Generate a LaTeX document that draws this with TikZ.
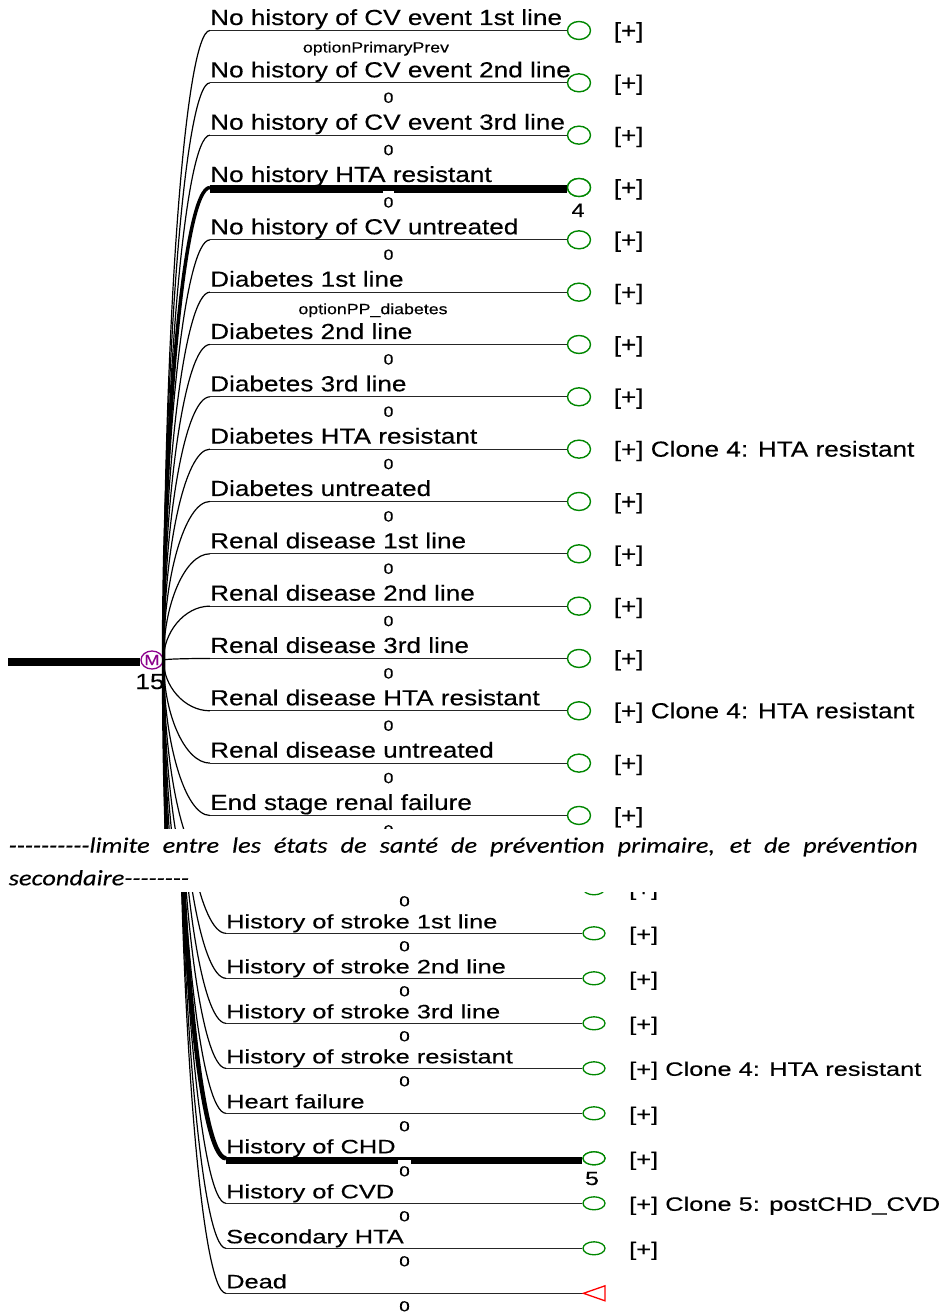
\documentclass[tikz,border=0pt]{standalone}
\usepackage{fontspec}
\usetikzlibrary{shapes.geometric}
\newfontfamily\upf[FakeStretch=1.2,FakeBold=0.3]{Liberation Sans}
\newfontfamily\lowf[FakeStretch=1.31,FakeBold=0.3]{Liberation Sans}
\newfontfamily\bandf[FakeStretch=1.2,FakeBold=0.2]{Carlito}
\definecolor{termgreen}{RGB}{0,135,0}
\definecolor{mpurple}{RGB}{140,0,140}
\definecolor{deadred}{RGB}{255,0,0}
\begin{document}
\begin{tikzpicture}[x=1pt,y=-1pt,
  ulab/.style={anchor=base west,inner sep=0pt,font=\upf\fontsize{21.8}{24}\selectfont},
  usmall/.style={anchor=base,inner sep=1pt,font=\upf\fontsize{14.8}{16}\selectfont},
  llab/.style={anchor=base west,inner sep=0pt,font=\lowf\fontsize{19.4}{22}\selectfont},
  lsmall/.style={anchor=base,inner sep=1pt,font=\lowf\fontsize{14.5}{16}\selectfont},
  notch/.style={fill=white,text height=15pt},
  uterm/.style={ellipse,draw=termgreen,line width=1.4pt,minimum width=23pt,minimum height=18pt,inner sep=0pt},
  lterm/.style={ellipse,draw=termgreen,line width=1.3pt,minimum width=22pt,minimum height=13pt,inner sep=0pt},
  mnode/.style={ellipse,draw=mpurple,text=mpurple,line width=1.3pt,minimum width=22pt,minimum height=18pt,inner sep=0pt,font=\upf\fontsize{15}{15}\selectfont},
  branch/.style={line width=1.2pt,black!85},
  stem/.style={line width=1.2pt,black},
  thickstem/.style={line width=3.5pt,black},
  thickline/.style={line width=8pt,black},
  bandtext/.style={anchor=base west,inner sep=0pt,font=\bandf\itshape\fontsize{22}{26}\selectfont}
]
\fill[white] (0,0) rectangle (947,1313);
\useasboundingbox (0,0) rectangle (947,1313);

% ---------------- upper part ----------------
\begin{scope}
\clip (0,0) rectangle (947,828);
\node[mnode] (M) at (152,660) {M};
\coordinate (root) at (8,661.5);
\draw[thickline] (root) -- (root -| M.west);
\node[ulab,anchor=base] (n15) at (150,689) {15};

\foreach \i/\t/\r in {
 1/No history of CV event 1st line/{[+]},
 2/No history of CV event 2nd line/{[+]},
 3/No history of CV event 3rd line/{[+]},
 4/No history HTA resistant/{[+]},
 5/No history of CV untreated/{[+]},
 6/Diabetes 1st line/{[+]},
 7/Diabetes 2nd line/{[+]},
 8/Diabetes 3rd line/{[+]},
 9/Diabetes HTA resistant/{[+] Clone 4: HTA resistant},
 10/Diabetes untreated/{[+]},
 11/Renal disease 1st line/{[+]},
 12/Renal disease 2nd line/{[+]},
 13/Renal disease 3rd line/{[+]},
 14/Renal disease HTA resistant/{[+] Clone 4: HTA resistant},
 15/Renal disease untreated/{[+]},
 16/End stage renal failure/{[+]}}{
  \pgfmathsetmacro\yy{30.5+52.33*(\i-1)}
  \coordinate (s\i) at (210,\yy);
  \node[uterm] (c\i) at (579,\yy) {};
  \draw[stem] (M.east) .. controls (163,{660+0.5*(\yy-660)}) and (184.15,\yy) .. (s\i);
  \draw[branch] (s\i) -- (c\i.west);
  \node[ulab] (t\i) at (210,{\yy-5.5}) {\t};
  \node[ulab] (r\i) at (613.5,{\yy+7.5}) {\r};
}
% stems towards the branches shown in the lower part
\foreach \k in {17,...,26}{
  \pgfmathsetmacro\yy{30.5+52.33*(\k-1)}
  \coordinate (s\k) at (210,\yy);
  \draw[stem] (M.east) .. controls (163,{660+0.5*(\yy-660)}) and (184.15,\yy) .. (s\k);
}
% thick (selected) paths
\draw[thickstem] (M.east) .. controls (163,{660+0.5*(187.5-660)}) and (184.15,187.5) .. (s4);
\draw[thickstem] (M.east) .. controls (163,{660+0.5*(1181.8-660)}) and (184.15,1181.8) .. (s23);
\draw[thickline] ([yshift=-2pt]s4) -- ([yshift=-2pt]s4 -| c4.west);
\node[uterm,fill=white] (c4b) at (c4) {};
\node[ulab,anchor=base,font=\upf\fontsize{19.5}{22}\selectfont] (n4) at (578,217) {4};

% probabilities
\node[usmall] (p1) at (376,{30.5+22}) {optionPrimaryPrev};
\node[usmall] (p6) at (373,{30.5+52.33*5+22}) {optionPP\_diabetes};
\foreach \i in {2,3,5,7,8,9,10,11,12,13,14,15,16}{
  \pgfmathsetmacro\yy{30.5+52.33*(\i-1)}
  \node[usmall] (p\i) at (388.5,{\yy+20}) {0};
}
\node[usmall,notch] (p4) at (388.5,{30.5+52.33*3+20}) {0};
\end{scope}

% ---------------- lower part ----------------
\begin{scope}
\clip (0,892) rectangle (947,1313);
\coordinate (V) at (179,708);
% partly hidden branch at the top
\coordinate (ls0) at (226,888.3);
\node[lterm] (lc0) at (594,888.3) {};
\draw[stem] (V) .. controls (179,{708+0.5*(888.3-708)}) and (200.15,888.3) .. (ls0);
\draw[branch] (ls0) -- (lc0.west);
\node[llab] (lr0) at (629,{888.3+7.5}) {[+]};
\node[lsmall] (lp0) at (404.5,{888.3+18}) {0};

\foreach \k/\t/\r in {
 1/History of stroke 1st line/{[+]},
 2/History of stroke 2nd line/{[+]},
 3/History of stroke 3rd line/{[+]},
 4/History of stroke resistant/{[+] Clone 4: HTA resistant},
 5/Heart failure/{[+]},
 6/History of CHD/{[+]},
 7/History of CVD/{[+] Clone 5: postCHD\_CVD},
 8/Secondary HTA/{[+]}}{
  \pgfmathsetmacro\yy{888.3+45*\k}
  \coordinate (ls\k) at (226,\yy);
  \node[lterm] (lc\k) at (594,\yy) {};
  \draw[stem] (V) .. controls (179,{708+0.5*(\yy-708)}) and (200.15,\yy) .. (ls\k);
  \draw[branch] (ls\k) -- (lc\k.west);
  \node[llab] (lt\k) at (226,{\yy-5}) {\t};
  \node[llab] (lr\k) at (629,{\yy+7.5}) {\r};
}
% Dead
\coordinate (ls9) at (226,1293.3);
\coordinate (d9) at (583.5,1293.3);
\draw[stem] (V) .. controls (179,{708+0.5*(1293.3-708)}) and (200.15,1293.3) .. (ls9);
\draw[branch] (ls9) -- (d9);
\draw[deadred,line width=1.3pt,line join=miter] (d9) -- ++(21.5,-7.5) -- ++(0,15) -- cycle;
\node[llab] (lt9) at (226,1288.3) {Dead};

% thick path to History of CHD
\draw[line width=4.5pt] (V) .. controls (179,{708+0.5*(1158.3-708)}) and (200.15,1158.3) .. (ls6);
\draw[line width=6.3pt] ([yshift=-2.2pt]ls6) -- ([yshift=-2.2pt]ls6 -| lc6.west);
\node[lterm,fill=white] (lc6b) at (lc6) {};
\node[llab,anchor=base,font=\lowf\fontsize{19}{22}\selectfont] (n5) at (592,1185) {5};

\foreach \k in {1,2,3,4,5,7,8,9}{
  \pgfmathsetmacro\yy{888.3+45*\k}
  \node[lsmall] (lp\k) at (404.5,{\yy+18}) {0};
}
\node[lsmall,notch] (lp6) at (404.5,{888.3+270+18}) {0};
\end{scope}

% ---------------- separating text ----------------
\node[bandtext] (band1) at (8.5,852.7) {\makebox[909pt][s]{-{}-{}-{}-{}-{}-{}-{}-{}-{}-limite entre les états de santé de prévention primaire, et de prévention}};
\node[bandtext] (band2) at (8.5,885.3) {secondaire-{}-{}-{}-{}-{}-{}-{}-};
\end{tikzpicture}
\end{document}
